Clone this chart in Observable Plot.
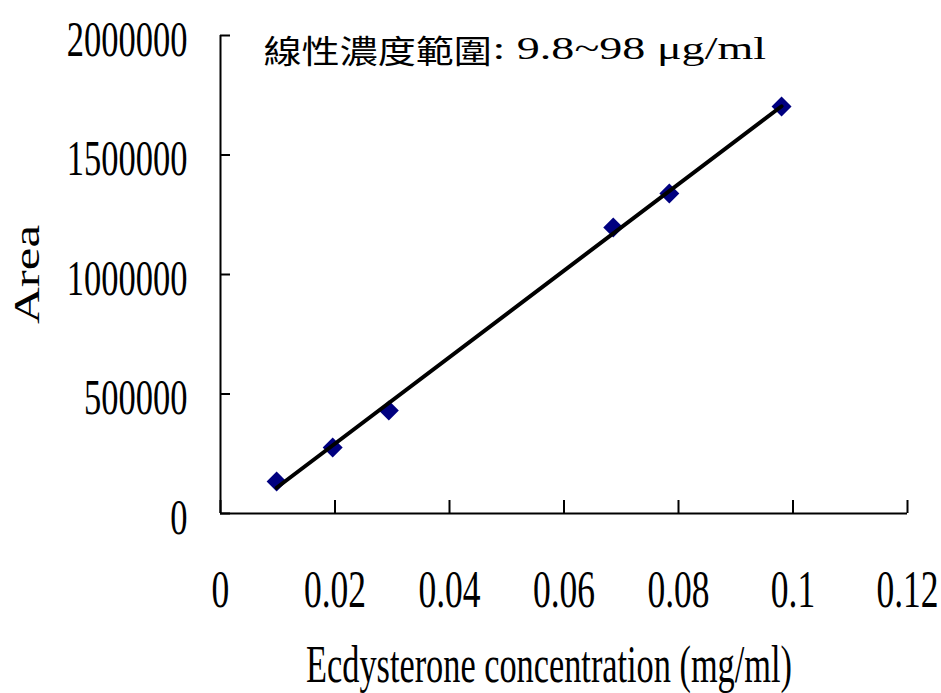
<!DOCTYPE html>
<html>
<head>
<meta charset="utf-8">
<script src="https://cdn.jsdelivr.net/npm/d3@7"></script>
<script src="https://cdn.jsdelivr.net/npm/@observablehq/plot@0.6"></script>
<style>
  html, body { margin: 0; padding: 0; background: #fff; }
</style>
</head>
<body>
<div id="chart"></div>
<script>
// ---- data ----
const concentration = [0.0098, 0.0196, 0.0294, 0.0686, 0.0784, 0.098]; // mg/ml
const area = [134000, 276000, 431000, 1197000, 1339000, 1703000];

const xTicks = [0, 0.02, 0.04, 0.06, 0.08, 0.1, 0.12];
const xTickLabels = ["0", "0.02", "0.04", "0.06", "0.08", "0.1", "0.12"];
const yTicks = [0, 500000, 1000000, 1500000, 2000000];
const yTickLabels = ["0", "500000", "1000000", "1500000", "2000000"];

const titleCJK = "線性濃度範圍";
const titleLatin = ": 9.8~98 μg/ml";
const xTitle = "Ecdysterone concentration (mg/ml)";
const yTitle = "Area";

// ---- layout ----
const W = 941, H = 693;
const mL = 220, mR = 34, mT = 35, mB = 180;
const frameW = W - mL - mR, frameH = H - mT - mB;
const serif = "'Liberation Serif', 'Times New Roman', serif";
const cjk = "'Noto Sans CJK TC', 'Noto Sans CJK SC', sans-serif";

const idx = concentration.map((_, i) => i);

// text marks, in order; each gets a glyph scale afterwards
const textMarks = [
  { mark: Plot.text(xTicks, {
      x: d => d, text: (d, i) => xTickLabels[i], frameAnchor: "bottom",
      textAnchor: "middle", lineAnchor: "middle",
      dy: 77, fontSize: 53, fill: "black"
    }), sx: 0.67, sy: 1 },
  { mark: Plot.text(yTicks, {
      y: d => d, text: (d, i) => yTickLabels[i], frameAnchor: "left",
      textAnchor: "end", lineAnchor: "middle", dx: -33, dy: 4, fontSize: 50, fill: "black"
    }), sx: 0.69, sy: 1 },
  { mark: Plot.text([xTitle], {
      text: d => d, frameAnchor: "bottom", textAnchor: "middle", lineAnchor: "middle",
      dx: -15, dy: 152, fontSize: 52, fill: "black"
    }), sx: 0.66, sy: 1 },
  { mark: Plot.text([yTitle], {
      text: d => d, frameAnchor: "left", textAnchor: "middle", lineAnchor: "middle",
      dx: -193, rotate: -90, fontSize: 51, fill: "black"
    }), sx: 1, sy: 0.72 },
  { mark: Plot.text([titleCJK], {
      text: d => d, frameAnchor: "top-left", textAnchor: "start", lineAnchor: "middle",
      dx: 263 - mL, dy: 52 - mT, fontSize: 32, fontFamily: cjk, fill: "black"
    }), sx: 1.19, sy: 1 },
  { mark: Plot.text([titleLatin], {
      text: d => d, frameAnchor: "top-left", textAnchor: "start", lineAnchor: "middle",
      dx: 492 - mL, dy: 48 - mT, fontSize: 32, fill: "black"
    }), sx: 1.44, sy: 1 }
];

const chart = Plot.plot({
  width: W,
  height: H,
  marginLeft: mL,
  marginRight: mR,
  marginTop: mT,
  marginBottom: mB,
  style: { fontFamily: serif, background: "white", color: "black" },
  x: { domain: [0, 0.12], axis: null },
  y: { domain: [0, 2000000], axis: null },
  marks: [
    // axis lines
    Plot.ruleY([0], { stroke: "black", strokeWidth: 2 }),
    Plot.ruleX([0], { stroke: "black", strokeWidth: 2 }),
    // inward ticks
    Plot.tickX(xTicks, { x: d => d, stroke: "black", strokeWidth: 2, insetTop: frameH - 13 }),
    Plot.tickY(yTicks, { y: d => d, stroke: "black", strokeWidth: 2, insetRight: frameW - 10 }),
    ...textMarks.map(t => t.mark),
    // data points
    Plot.dot(idx, {
      x: concentration, y: area, symbol: "diamond2", r: 9,
      fill: "#000080", stroke: "none"
    }),
    // linear trend line
    Plot.linearRegressionY(idx, {
      x: concentration, y: area, ci: 0, stroke: "black", strokeWidth: 4
    })
  ]
});

document.getElementById("chart").appendChild(chart);

// condense / stretch text glyphs to match the reference typeface proportions
const textGroups = chart.querySelectorAll('g[aria-label="text"]');
textGroups.forEach((g, k) => {
  const spec = textMarks[k];
  if (!spec) return;
  g.querySelectorAll("text").forEach(t => {
    t.setAttribute("transform", (t.getAttribute("transform") || "") + ` scale(${spec.sx},${spec.sy})`);
  });
});
</script>
</body>
</html>
